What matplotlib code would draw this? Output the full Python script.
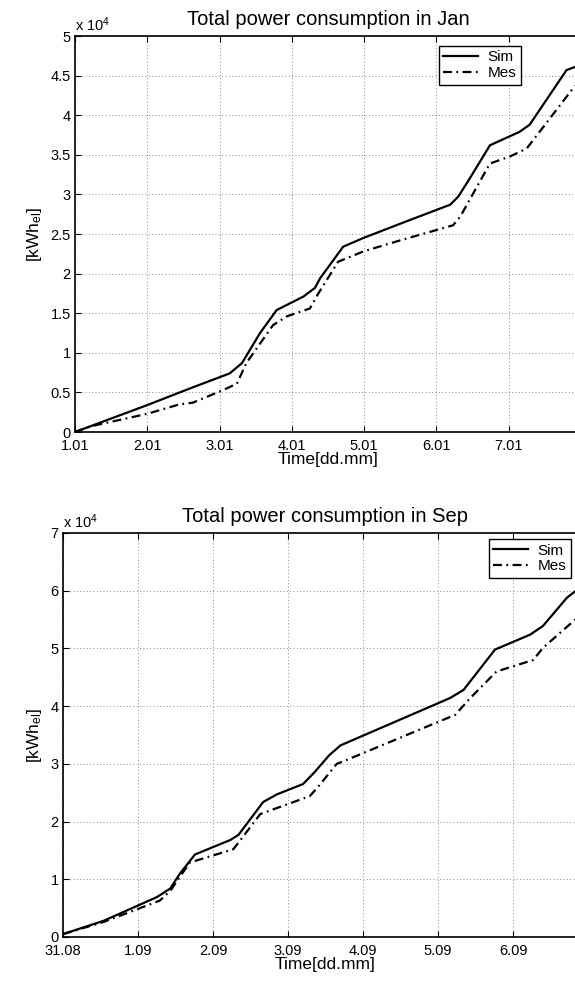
import numpy as np
import matplotlib
matplotlib.use("Agg")
import matplotlib.pyplot as plt

plt.rcParams['font.family'] = ['Liberation Sans', 'DejaVu Sans']
plt.rcParams['mathtext.fontset'] = 'custom'
plt.rcParams['mathtext.rm'] = 'Liberation Sans'
plt.rcParams['mathtext.it'] = 'Liberation Sans'

# --- January (days since 1.01, values in 1e4 kWh_el)
jan_sim_t = [0, 1.0, 1.59, 2.14, 2.31, 2.56, 2.79, 3.16, 3.32, 3.39, 3.71, 3.99,
             4.50, 5.19, 5.30, 5.46, 5.74, 6.15, 6.29, 6.80, 6.92]
jan_sim_v = [0, 0.34, 0.55, 0.74, 0.87, 1.25, 1.54, 1.71, 1.82, 1.94, 2.34, 2.45,
             2.63, 2.87, 2.97, 3.20, 3.62, 3.79, 3.88, 4.57, 4.61]
jan_mes_t = [0, 0.21, 1.0, 1.45, 1.63, 2.05, 2.24, 2.37, 2.74, 2.93, 3.25, 3.36,
             3.64, 3.99, 4.50, 5.23, 5.33, 5.74, 6.02, 6.25, 6.89, 6.92]
jan_mes_v = [0, 0.07, 0.23, 0.35, 0.37, 0.53, 0.61, 0.87, 1.35, 1.46, 1.56, 1.74,
             2.15, 2.28, 2.42, 2.61, 2.72, 3.39, 3.48, 3.58, 4.34, 4.37]
jan_ticks = ["1.01", "2.01", "3.01", "4.01", "5.01", "6.01", "7.01"]

# --- September (days since 31.08)
sep_sim_t = [0, 0.54, 1.25, 1.43, 1.56, 1.76, 2.23, 2.34, 2.67, 2.85, 3.20, 3.35,
             3.55, 3.70, 5.16, 5.34, 5.76, 6.23, 6.40, 6.72, 6.83]
sep_sim_v = [0.05, 0.28, 0.69, 0.84, 1.10, 1.43, 1.68, 1.77, 2.34, 2.47, 2.65, 2.85,
             3.15, 3.32, 4.14, 4.28, 4.98, 5.24, 5.39, 5.88, 5.99]
sep_mes_t = [0, 0.54, 1.29, 1.43, 1.69, 2.27, 2.36, 2.63, 3.29, 3.40, 3.65, 3.75,
             5.23, 5.43, 5.78, 6.27, 6.40, 6.83]
sep_mes_v = [0.05, 0.26, 0.63, 0.80, 1.29, 1.52, 1.67, 2.13, 2.44, 2.60, 3.00, 3.05,
             3.85, 4.14, 4.60, 4.80, 5.01, 5.50]
sep_ticks = ["31.08", "1.09", "2.09", "3.09", "4.09", "5.09", "6.09"]

W, H = 575, 981
fig = plt.figure(figsize=(W / 100, H / 100), dpi=100)


def px_axes(l, t, r, b):
    return fig.add_axes([l / W, 1 - b / H, (r - l) / W, (b - t) / H])


def panel(ax, st, sv, mt, mv, ticks, ymax, ystep, title, leg_anchor):
    ax.plot(st, sv, color="black", lw=1.6, label="Sim")
    ax.plot(mt, mv, color="black", lw=1.6, ls=(0, (4, 2, 0.8, 2)), label="Mes")
    ax.set_xlim(0, 7)
    ax.set_ylim(0, ymax)
    ax.set_xticks(range(len(ticks)))
    ax.set_xticklabels(ticks)
    yt = np.arange(0, ymax + 1e-9, ystep)
    ax.set_yticks(yt)
    ax.set_yticklabels(["%g" % v for v in yt])
    ax.tick_params(direction="in", top=True, right=True, labelsize=10.5,
                   length=4, width=0.8)
    ax.tick_params(axis="x", pad=5)
    ax.tick_params(axis="y", pad=3)
    ax.grid(True, ls=(0, (1, 3)), color="#666666", lw=0.6)
    for s in ax.spines.values():
        s.set_linewidth(1.2)
    ax.set_title(title, fontsize=14.5, pad=8)
    ax.set_xlabel("Time[dd.mm]", fontsize=12.5, labelpad=-1)
    ax.set_ylabel(r"[kWh$_{\rm el}$]", fontsize=12.5, labelpad=5)
    ax.text(0.0, 1.004, r"x 10$^4$", transform=ax.transAxes, fontsize=10.5,
            ha="left", va="bottom")
    leg = ax.legend(loc="upper right", bbox_to_anchor=leg_anchor, fontsize=11,
                    fancybox=False, framealpha=1, edgecolor="black",
                    handlelength=2.3, borderpad=0.3, labelspacing=0.1,
                    handletextpad=0.6, borderaxespad=0)
    leg.get_frame().set_linewidth(1.0)


ax1 = px_axes(75, 36, 581, 432)
panel(ax1, jan_sim_t, jan_sim_v, jan_mes_t, jan_mes_v, jan_ticks, 5, 0.5,
      "Total power consumption in Jan", (0.8814, 0.975))

ax2 = px_axes(63, 533, 588, 937)
panel(ax2, sep_sim_t, sep_sim_v, sep_mes_t, sep_mes_v, sep_ticks, 7, 1,
      "Total power consumption in Sep", (0.9676, 0.985))

fig.savefig("out.png", dpi=100)
